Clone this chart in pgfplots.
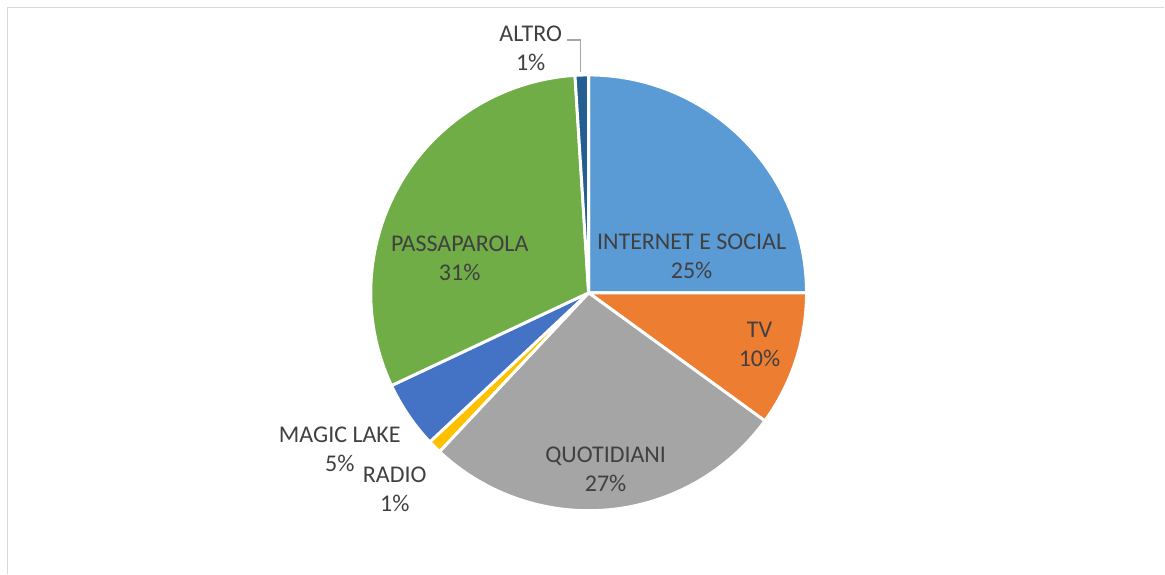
\documentclass[border=0pt]{standalone}
\usepackage{pgfplots}
\pgfplotsset{compat=1.18}
\usepackage{fontspec}
\setmainfont{Carlito}
\definecolor{cInternet}{HTML}{5B9BD5}
\definecolor{cTV}{HTML}{ED7D31}
\definecolor{cQuot}{HTML}{A5A5A5}
\definecolor{cRadio}{HTML}{FFC000}
\definecolor{cMagic}{HTML}{4472C4}
\definecolor{cPassa}{HTML}{70AD47}
\definecolor{cAltro}{HTML}{255E91}
\definecolor{txt}{HTML}{404040}
\definecolor{frame}{HTML}{D9D9D9}
\def\cx{589}
\def\cy{281}
\def\R{218}
\gdef\cum{90}
\newcommand{\slice}[2]{%
  \pgfmathsetmacro\sa{\cum}%
  \pgfmathsetmacro\ea{\cum-3.6*#1}%
  \edef\temp{\noexpand\addplot[fill=#2, draw=white, line width=2.2pt, line join=round, domain=\ea:\sa, samples=80, smooth=false]
    ({\cx+\R*cos(x)},{\cy+\R*sin(x)}) -- (axis cs:\cx,\cy) -- cycle;}%
  \temp
  \xdef\cum{\ea}%
}
\newcommand{\lbl}[3]{\node[text=txt, align=center, font=\fontsize{18}{21.75}\selectfont] at (axis cs:#1,#2) {#3};}
\begin{document}
\begin{tikzpicture}
\begin{axis}[
  x=0.75pt, y=0.75pt,
  xmin=0, xmax=1165, ymin=0, ymax=574,
  hide axis, clip=false, scale only axis,
]
\path (axis cs:0,0) (axis cs:1165,574);
\draw[frame, line width=1.1pt] (axis cs:7.5,0) -- (axis cs:7.5,566.5) -- (axis cs:1165,566.5);
% values in percent, clockwise from 12 o'clock
\slice{25}{cInternet}
\slice{10}{cTV}
\slice{27}{cQuot}
\slice{1}{cRadio}
\slice{5}{cMagic}
\slice{31}{cPassa}
\slice{1}{cAltro}
% labels
\lbl{692}{318}{INTERNET E SOCIAL\\25\%}
\lbl{760}{229}{TV\\10\%}
\lbl{606}{104}{QUOTIDIANI\\27\%}
\lbl{395}{84}{RADIO\\1\%}
\lbl{340}{124}{MAGIC LAKE\\5\%}
\lbl{460}{316}{PASSAPAROLA\\31\%}
\lbl{531}{526}{ALTRO\\1\%}
\draw[color=cQuot, line width=1.1pt] (axis cs:567,534) -- (axis cs:581,534) -- (axis cs:581,502);
\end{axis}
\end{tikzpicture}
\end{document}
